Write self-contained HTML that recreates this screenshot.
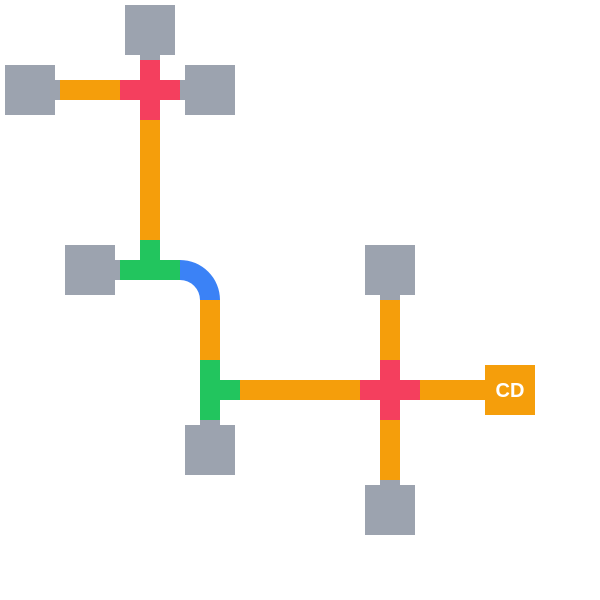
<!DOCTYPE html>
<html><head><style>body{margin:0;background:#fff}svg{display:block}</style></head><body>
<svg width="600" height="600" xmlns="http://www.w3.org/2000/svg">
<g fill="#9CA3AF">
<rect x="125" y="5" width="50" height="50"/><rect x="140" y="55" width="20" height="5"/>
<rect x="5" y="65" width="50" height="50"/><rect x="55" y="80" width="5" height="20"/>
<rect x="185" y="65" width="50" height="50"/><rect x="180" y="80" width="5" height="20"/>
<rect x="65" y="245" width="50" height="50"/><rect x="115" y="260" width="5" height="20"/>
<rect x="185" y="425" width="50" height="50"/><rect x="200" y="420" width="20" height="5"/>
<rect x="365" y="245" width="50" height="50"/><rect x="380" y="295" width="20" height="5"/>
<rect x="365" y="485" width="50" height="50"/><rect x="380" y="480" width="20" height="5"/>
</g>
<g fill="#F59E0B">
<rect x="60" y="80" width="60" height="20"/>
<rect x="140" y="120" width="20" height="120"/>
<rect x="200" y="300" width="20" height="60"/>
<rect x="240" y="380" width="120" height="20"/>
<rect x="380" y="300" width="20" height="60"/>
<rect x="380" y="420" width="20" height="60"/>
<rect x="420" y="380" width="65" height="20"/>
<rect x="485" y="365" width="50" height="50"/>
</g>
<g fill="#F43F5E">
<rect x="120" y="80" width="60" height="20"/><rect x="140" y="60" width="20" height="60"/>
<rect x="360" y="380" width="60" height="20"/><rect x="380" y="360" width="20" height="60"/>
</g>
<g fill="#22C55E">
<rect x="140" y="240" width="20" height="40"/><rect x="120" y="260" width="60" height="20"/>
<rect x="200" y="360" width="20" height="60"/><rect x="220" y="380" width="20" height="20"/>
</g>
<path d="M180 260 A40 40 0 0 1 220 300 L200 300 A20 20 0 0 0 180 280 Z" fill="#3B82F6"/>
<text x="510" y="397" fill="#fff" font-family="Liberation Sans, sans-serif" font-weight="bold" font-size="20" text-anchor="middle">CD</text>
</svg>
</body></html>
